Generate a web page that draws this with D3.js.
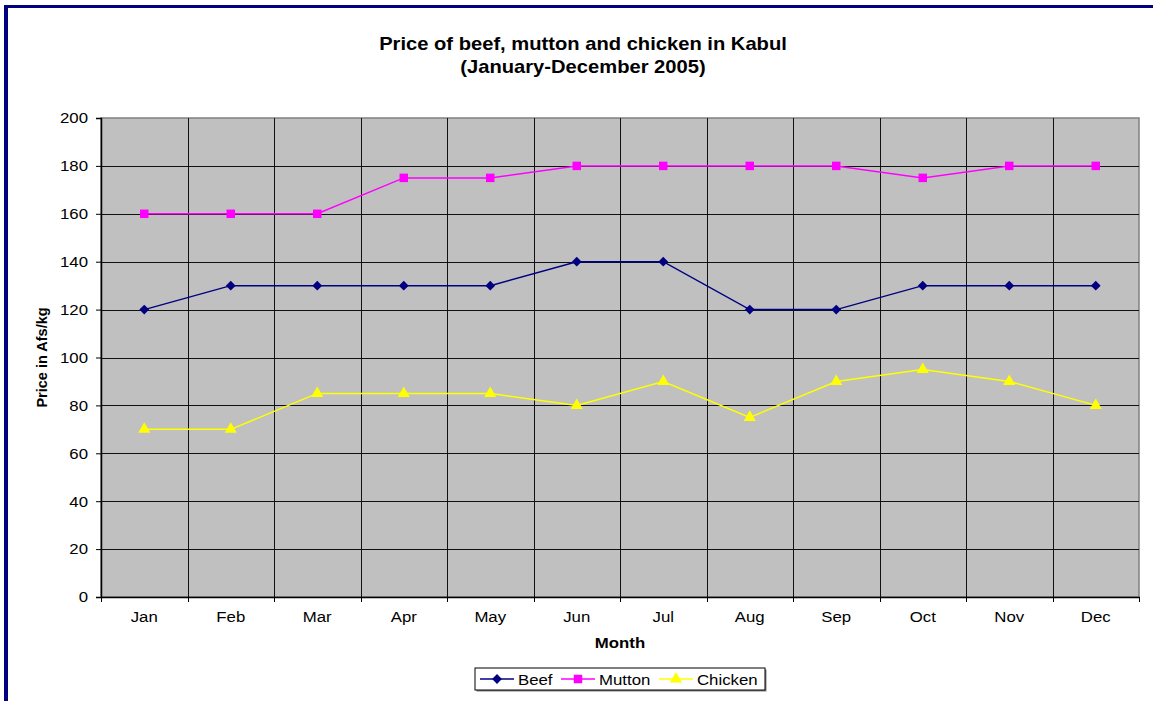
<!DOCTYPE html>
<html lang="en">
<head>
  <meta charset="UTF-8">
  <title>Price of beef, mutton and chicken in Kabul</title>
  <script src="https://d3js.org/d3.v7.min.js"></script>
  <style>
    body {
      background: #fff;
      margin: 0;
    }
    svg text {
      font-family: Arial, 'Liberation Sans', Helvetica, sans-serif;
      fill: #000;
    }
  </style>
</head>
<body>
  <script>
    var months = ["Jan", "Feb", "Mar", "Apr", "May", "Jun", "Jul", "Aug", "Sep", "Oct", "Nov", "Dec"];
    var beef = [120, 130, 130, 130, 130, 140, 140, 120, 120, 130, 130, 130];
    var mutton = [160, 160, 160, 175, 175, 180, 180, 180, 180, 175, 180, 180];
    var chicken = [70, 70, 85, 85, 85, 80, 90, 75, 90, 95, 90, 80];
    var yTicks = [0, 20, 40, 60, 80, 100, 120, 140, 160, 180, 200];

    var series = [
      { name: "Beef", values: beef, color: "#000080", symbol: d3.symbolSquare, size: 48, rotate: 45 },
      { name: "Mutton", values: mutton, color: "#ff00ff", symbol: d3.symbolSquare, size: 72, rotate: 0 },
      { name: "Chicken", values: chicken, color: "#ffff00", symbol: d3.symbolTriangle, size: 64, rotate: 0 }
    ];

    var width = 1153, height = 701;
    var margin = { top: 118, right: 14, bottom: 104, left: 101 };
    // the original picture is a little wider than tall, text included
    var sx = 1.12;

    // squeeze x so that after scale(sx,1) the text lands where it was
    function stretch(sel, k) {
      sel.each(function() {
        var t = d3.select(this);
        var x0 = +t.attr("x") || 0;
        var tr = t.attr("transform") || "";
        t.attr("x", x0 / k).attr("transform", tr + " scale(" + k + ",1)");
      });
    }

    var svg = d3.select("body").append("svg")
      .attr("width", width)
      .attr("height", height);

    // navy frame, top and left only
    svg.append("rect")
      .attr("x", 4).attr("y", 5)
      .attr("width", width).attr("height", 3)
      .attr("fill", "#000080");
    svg.append("rect")
      .attr("x", 4).attr("y", 5)
      .attr("width", 4).attr("height", height)
      .attr("fill", "#000080");

    var x = d3.scaleBand()
      .domain(months)
      .range([margin.left, width - margin.right]);

    var y = d3.scaleLinear()
      .domain([0, 200])
      .range([height - margin.bottom, margin.top]);

    var plot = svg.append("g");

    plot.append("rect")
      .attr("x", x.range()[0])
      .attr("y", y(200))
      .attr("width", x.range()[1] - x.range()[0])
      .attr("height", y(0) - y(200))
      .attr("fill", "#c0c0c0")
      .attr("stroke", "#808080")
      .attr("stroke-width", 1.5);

    // horizontal gridlines
    plot.selectAll(".hgrid")
      .data(yTicks.slice(1, -1))
      .enter()
      .append("line")
      .attr("x1", x.range()[0])
      .attr("x2", x.range()[1])
      .attr("y1", function(d) { return Math.round(y(d)) + 0.5; })
      .attr("y2", function(d) { return Math.round(y(d)) + 0.5; })
      .attr("stroke", "#111")
      .attr("stroke-width", 1);

    // vertical gridlines at category boundaries
    plot.selectAll(".vgrid")
      .data(months.slice(1))
      .enter()
      .append("line")
      .attr("x1", function(d) { return Math.round(x(d)) + 0.5; })
      .attr("x2", function(d) { return Math.round(x(d)) + 0.5; })
      .attr("y1", y(200))
      .attr("y2", y(0))
      .attr("stroke", "#111")
      .attr("stroke-width", 1);

    // y axis
    var yAxis = svg.append("g")
      .attr("transform", "translate(" + x.range()[0] + ",0)")
      .call(d3.axisLeft(y).tickValues(yTicks).tickSize(5).tickPadding(8));
    yAxis.select(".domain").attr("stroke", "#000").attr("stroke-width", 1.5);
    yAxis.selectAll(".tick line").attr("stroke", "#000");
    yAxis.selectAll("text").attr("font-size", 15).call(stretch, sx);

    // x axis, ticks at category boundaries
    var xAxis = svg.append("g")
      .attr("transform", "translate(0," + y(0) + ")")
      .call(d3.axisBottom(x).tickSize(0).tickPadding(14));
    xAxis.select(".domain").attr("stroke", "#000").attr("stroke-width", 1.5);
    xAxis.selectAll("text").attr("font-size", 15).call(stretch, sx);

    xAxis.selectAll(".bnd")
      .data(months.concat(["end"]))
      .enter()
      .append("line")
      .attr("x1", function(d, i) { return Math.round(x.range()[0] + i * x.step()) + 0.5; })
      .attr("x2", function(d, i) { return Math.round(x.range()[0] + i * x.step()) + 0.5; })
      .attr("y1", 0)
      .attr("y2", 5)
      .attr("stroke", "#000");

    // lines and markers
    var line = d3.line()
      .x(function(d, i) { return x(months[i]) + x.bandwidth() / 2; })
      .y(function(d) { return y(d); });

    series.forEach(function(s) {
      svg.append("path")
        .datum(s.values)
        .attr("d", line)
        .attr("fill", "none")
        .attr("stroke", s.color)
        .attr("stroke-width", 1.5);

      svg.selectAll(".m-" + s.name)
        .data(s.values)
        .enter()
        .append("path")
        .attr("d", d3.symbol().type(s.symbol).size(s.size))
        .attr("transform", function(d, i) {
          return "translate(" + (x(months[i]) + x.bandwidth() / 2) + "," + y(d) + ") rotate(" + s.rotate + ")";
        })
        .attr("fill", s.color);
    });

    // titles
    var title = svg.append("g")
      .attr("font-weight", "bold")
      .attr("font-size", 18)
      .attr("text-anchor", "middle");
    title.append("text")
      .attr("x", 583).attr("y", 50)
      .text("Price of beef, mutton and chicken in Kabul");
    title.append("text")
      .attr("x", 583).attr("y", 73)
      .text("(January-December 2005)");
    title.selectAll("text").call(stretch, sx);

    svg.append("text")
      .attr("x", (x.range()[0] + x.range()[1]) / 2)
      .attr("y", 648)
      .attr("text-anchor", "middle")
      .attr("font-weight", "bold")
      .attr("font-size", 15)
      .text("Month")
      .call(stretch, sx);

    svg.append("text")
      .attr("transform", "translate(47," + y(100) + ") rotate(-90)")
      .attr("text-anchor", "middle")
      .attr("font-weight", "bold")
      .attr("font-size", 14.5)
      .text("Price in Afs/kg");

    // legend
    var legend = svg.append("g").attr("transform", "translate(475,668)");
    legend.append("rect")
      .attr("x", 1.5).attr("y", 1.5)
      .attr("width", 290).attr("height", 22)
      .attr("fill", "#808080");
    legend.append("rect")
      .attr("width", 290).attr("height", 22)
      .attr("fill", "#fff")
      .attr("stroke", "#000")
      .attr("stroke-width", 1);

    var offsets = [5, 86, 184];
    var item = legend.selectAll(".item")
      .data(series)
      .enter()
      .append("g")
      .attr("transform", function(d, i) { return "translate(" + offsets[i] + ",11)"; });
    item.append("line")
      .attr("x1", 0).attr("x2", 34)
      .attr("stroke", function(d) { return d.color; })
      .attr("stroke-width", 1.5);
    item.append("path")
      .attr("d", function(d) { return d3.symbol().type(d.symbol).size(d.size)(); })
      .attr("transform", function(d) { return "translate(17,0) rotate(" + d.rotate + ")"; })
      .attr("fill", function(d) { return d.color; });
    item.append("text")
      .attr("x", 38).attr("y", 5.5)
      .attr("font-size", 15)
      .text(function(d) { return d.name; })
      .call(stretch, sx);
  </script>
</body>
</html>
